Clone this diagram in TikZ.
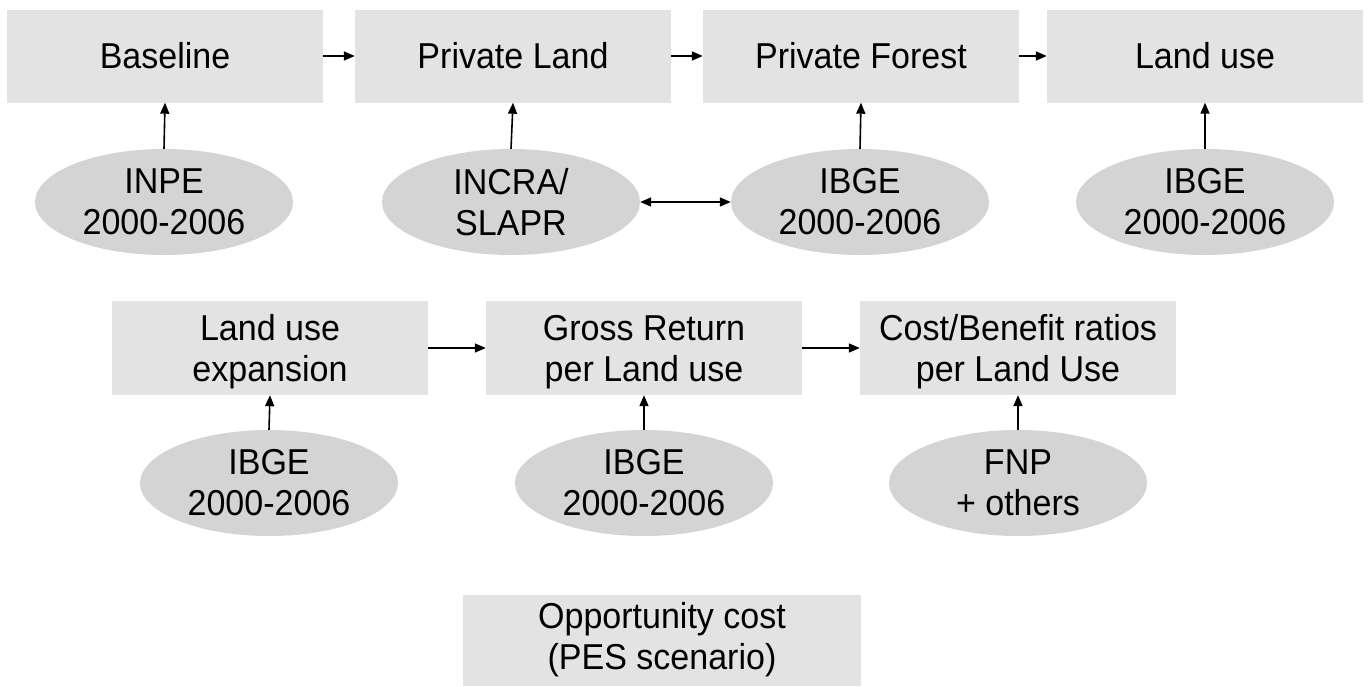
\documentclass[tikz,border=0pt]{standalone}
\usepackage{fontspec}
\setmainfont{Liberation Sans}[FakeStretch=0.945]
\usetikzlibrary{shapes.geometric,arrows.meta}
\definecolor{boxgray}{RGB}{227,227,227}
\definecolor{ellgray}{RGB}{212,212,212}
\newcommand{\tallfirst}{\rule{0pt}{34pt}}
\begin{document}
\begin{tikzpicture}[x=1pt,y=-1pt,
  stepbox/.style={rectangle,fill=boxgray,minimum width=316pt,minimum height=93pt,inner sep=0pt,align=center,font=\fontsize{36}{41}\selectfont},
  srcell/.style={ellipse,fill=ellgray,minimum width=258pt,minimum height=106pt,inner sep=0pt},
  srctext/.style={align=center,font=\fontsize{36}{41}\selectfont,inner sep=0pt},
  arr/.style={line width=1.6pt,-{Triangle[length=11pt,width=9pt]}},
  darr/.style={line width=1.6pt,{Triangle[length=11pt,width=9pt]}-{Triangle[length=11pt,width=9pt]}}]
\useasboundingbox (0,0) rectangle (1370,686);
\fill[white] (0,0) rectangle (1370,686);
% top row
\node[stepbox] (b1) at (165,56) {Baseline};
\node[stepbox] (b2) at (513,56) {Private Land};
\node[stepbox] (b3) at (861,56) {Private Forest};
\node[stepbox] (b4) at (1205,56) {Land use};
\node[srcell] (e1) at (164,202) {};
\node[srcell] (e2) at (511,202) {};
\node[srcell] (e3) at (860,202) {};
\node[srcell] (e4) at (1205,202) {};
\node[srctext] (t1) at (e1) {INPE\\2000-2006};
\node[srctext] (t2) at (e2) {INCRA/\\SLAPR};
\node[srctext] (t3) at (e3) {IBGE\\2000-2006};
\node[srctext] (t4) at (e4) {IBGE\\2000-2006};
\draw[arr] (b1.east) -- (b2.west);
\draw[arr] (b2.east) -- (b3.west);
\draw[arr] (b3.east) -- (b4.west);
\draw[arr] (e1.north) -- (b1.south);
\draw[arr] (e2.north) -- (b2.south);
\draw[arr] (e3.north) -- (b3.south);
\draw[arr] (e4.north) -- (b4.south);
\draw[darr] (e2.east) -- (e3.west);
% second row
\node[stepbox,minimum height=94pt] (c1) at (270,348) {\tallfirst Land use\\expansion};
\node[stepbox,minimum height=94pt] (c2) at (644,348) {\tallfirst Gross Return\\per Land use};
\node[stepbox,minimum height=94pt] (c3) at (1018,348) {\tallfirst Cost/Benefit ratios\\per Land Use};
\node[srcell] (f1) at (269,483) {};
\node[srcell] (f2) at (644,483) {};
\node[srcell] (f3) at (1018,483) {};
\node[srctext] (u1) at (f1) {IBGE\\2000-2006};
\node[srctext] (u2) at (f2) {IBGE\\2000-2006};
\node[srctext] (u3) at (f3) {FNP\\+ others};
\draw[arr] (c1.east) -- (c2.west);
\draw[arr] (c2.east) -- (c3.west);
\draw[arr] (f1.north) -- (c1.south);
\draw[arr] (f2.north) -- (c2.south);
\draw[arr] (f3.north) -- (c3.south);
% bottom
\node[stepbox,minimum width=398pt,minimum height=91pt] (o) at (662,640) {Opportunity cost\\(PES scenario)};
\end{tikzpicture}
\end{document}
